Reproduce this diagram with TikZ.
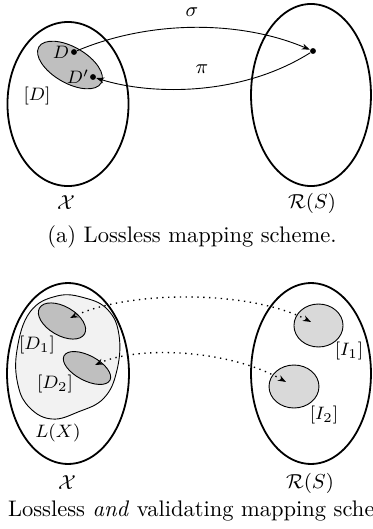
\documentclass[tikz,border=0pt]{standalone}
\usetikzlibrary{shapes.geometric,arrows.meta}
\begin{document}
\begin{tikzpicture}[x=0.4444pt,y=-0.4444pt,
  bigset/.style={draw,ellipse,line width=0.8pt,inner sep=0pt},
  dclass/.style={draw,ellipse,fill=gray!50,line width=0.4pt,inner sep=0pt},
  iclass/.style={draw,ellipse,fill=gray!30,line width=0.4pt,inner sep=0pt},
  pt/.style={circle,fill=black,inner sep=0pt,minimum size=2.6pt},
  lbl/.style={font=\footnotesize,inner sep=0pt},
  setlbl/.style={font=\small,inner sep=0pt},
  maparrow/.style={-{Stealth[length=3.6pt,width=2.6pt]},line width=0.4pt},
  valarrow/.style={{Stealth[length=3.6pt,width=2.6pt]}-{Stealth[length=3.6pt,width=2.6pt]},dotted,line width=0.6pt}]
\clip (0,0) rectangle (372,529);
% ---------- (a) ----------
\node[bigset,minimum width=53.8pt,minimum height=72.9pt] (Xa) at (68,104) {};
\node[bigset,minimum width=53.3pt,minimum height=80.9pt] (Ra) at (311,95) {};
\node[dclass,minimum width=32pt,minimum height=16pt,rotate=-30] (Dcl) at (70,65) {};
\node[pt] (D) at (74,52) {};
\node[pt] (Dp) at (93,77) {};
\node[pt] (r) at (313,51) {};
\node[lbl] (Dl) at (61,52) {$D$};
\node[lbl] (Dpl) at (78,77) {$D'$};
\node[lbl] (Dcll) at (37,96) {$[D]$};
\node[setlbl] (Xal) at (66,203) {$\mathcal{X}$};
\node[setlbl] (Ral) at (312,203) {$\mathcal{R}(S)$};
\draw[maparrow] (D) .. controls (150,20) and (240,20) .. (r);
\draw[maparrow] (r) .. controls (240,97) and (150,95) .. (Dp);
\node[setlbl] (sig) at (192,12) {$\sigma$};
\node[setlbl] (pi) at (202,69) {$\pi$};
\node (capa) at (192,237) {(a) Lossless mapping scheme.};
% ---------- (b) ----------
\node[bigset,minimum width=54.2pt,minimum height=80.4pt] (Xb) at (68,373.5) {};
\node[bigset,minimum width=53.3pt,minimum height=80.4pt] (Rb) at (311,373.5) {};
\draw[fill=gray!10,line width=0.4pt] plot[smooth cycle,tension=0.7] coordinates {
  (57,296) (85,298) (108,310) (119,335) (117,370) (104,398) (78,412) (52,419) (30,408) (18,385) (17,350) (30,312)};
\node[dclass,minimum width=23.1pt,minimum height=12.9pt,rotate=-30] (D1) at (62,321) {};
\node[dclass,minimum width=23.1pt,minimum height=11.1pt,rotate=-28] (D2) at (87,368) {};
\node[iclass,minimum width=21.8pt,minimum height=19.1pt] (I1) at (318.5,325.5) {};
\node[iclass,minimum width=22.2pt,minimum height=19.1pt] (I2) at (294,386.5) {};
\coordinate (d1t) at (70,318);
\coordinate (i1t) at (311,322);
\coordinate (d2t) at (95,365);
\coordinate (i2t) at (286,382);
\draw[valarrow] (i1t) .. controls (250,290) and (130,290) .. (d1t);
\draw[valarrow] (i2t) .. controls (230,350) and (140,345) .. (d2t);
\node[lbl] (D1l) at (37,345) {$[D_1]$};
\node[lbl] (D2l) at (55,384) {$[D_2]$};
\node[lbl] (LXl) at (58,433) {$L(X)$};
\node[lbl] (I1l) at (349,351) {$[I_1]$};
\node[lbl] (I2l) at (324,415) {$[I_2]$};
\node[setlbl] (Xbl) at (67,483) {$\mathcal{X}$};
\node[setlbl] (Rbl) at (310,483) {$\mathcal{R}(S)$};
\node (capb) at (190,511) {(b) Lossless \emph{and} validating mapping scheme.};
\end{tikzpicture}
\end{document}
